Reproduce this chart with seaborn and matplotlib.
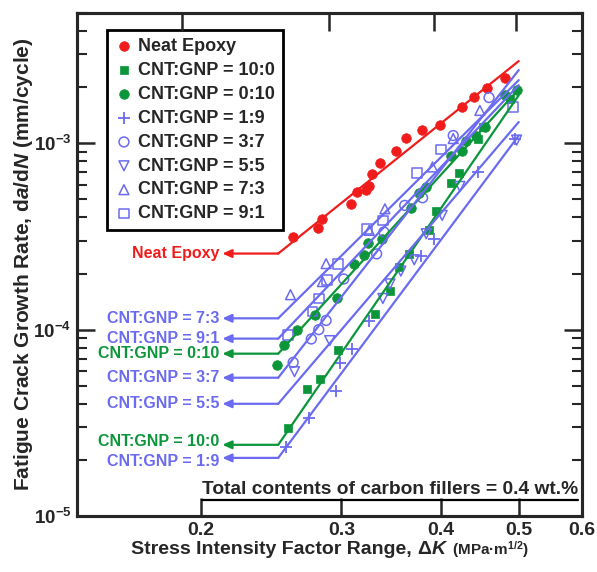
import numpy as np
import seaborn as sns
import matplotlib.pyplot as plt
from matplotlib.ticker import FixedLocator, NullLocator, NullFormatter, LogLocator
from matplotlib.offsetbox import TextArea, HPacker, AnchoredOffsetbox

RED = '#f01c1c'
GREEN = '#0b963a'
BLUE = '#6b6bf2'

# measured points, dK (MPa m^1/2) and da/dN (mm/cycle)
neat_x = [0.261, 0.280, 0.284, 0.308, 0.314, 0.322, 0.325, 0.328, 0.335, 0.351,
          0.361, 0.378, 0.399, 0.425, 0.440, 0.456, 0.481]
neat_y = [3.13e-4, 3.52e-4, 3.94e-4, 4.70e-4, 5.47e-4, 5.59e-4, 5.89e-4, 6.87e-4, 7.84e-4, 9.10e-4,
          1.07e-3, 1.18e-3, 1.25e-3, 1.57e-3, 1.77e-3, 1.97e-3, 2.24e-3]

r10_0_x = [0.257, 0.272, 0.282, 0.297, 0.330, 0.345, 0.354, 0.364, 0.386, 0.394,
           0.411, 0.421, 0.445, 0.451, 0.488]
r10_0_y = [2.98e-5, 4.80e-5, 5.41e-5, 7.80e-5, 1.21e-4, 1.61e-4, 2.16e-4, 2.55e-4, 3.44e-4, 4.31e-4,
           6.12e-4, 6.92e-4, 1.05e-3, 1.23e-3, 1.72e-3]

r0_10_x = [0.249, 0.254, 0.264, 0.278, 0.296, 0.311, 0.320, 0.324, 0.337, 0.367,
           0.375, 0.383, 0.411, 0.425, 0.430, 0.442, 0.454, 0.481, 0.497]
r0_10_y = [6.46e-5, 8.28e-5, 1.00e-4, 1.20e-4, 1.47e-4, 2.25e-4, 2.53e-4, 2.91e-4, 3.07e-4, 4.49e-4,
           5.41e-4, 5.82e-4, 8.51e-4, 9.06e-4, 1.03e-3, 1.10e-3, 1.23e-3, 1.81e-3, 1.93e-3]

r1_9_x = [0.256, 0.273, 0.295, 0.299, 0.309, 0.325, 0.377, 0.392, 0.444, 0.495]
r1_9_y = [2.35e-5, 3.34e-5, 4.70e-5, 6.62e-5, 7.88e-5, 1.11e-4, 2.47e-4, 3.07e-4, 7.01e-4, 1.06e-3]

r3_7_x = [0.261, 0.275, 0.281, 0.287, 0.302, 0.332, 0.339, 0.360, 0.379, 0.414, 0.459]
r3_7_y = [6.67e-5, 8.91e-5, 1.00e-4, 1.12e-4, 1.87e-4, 2.55e-4, 3.34e-4, 4.64e-4, 5.10e-4, 1.10e-3, 1.76e-3]

r5_5_x = [0.262, 0.290, 0.338, 0.345, 0.356, 0.370, 0.383, 0.401, 0.422, 0.497]
r5_5_y = [5.95e-5, 8.73e-5, 1.47e-4, 1.76e-4, 2.06e-4, 2.37e-4, 3.27e-4, 4.10e-4, 5.87e-4, 1.04e-3]

r7_3_x = [0.259, 0.284, 0.287, 0.325, 0.340, 0.390, 0.414, 0.447]
r7_3_y = [1.54e-4, 1.81e-4, 2.26e-4, 3.41e-4, 4.45e-4, 7.46e-4, 1.06e-3, 1.50e-3]

r9_1_x = [0.257, 0.276, 0.281, 0.288, 0.297, 0.323, 0.338, 0.373, 0.400, 0.492]
r9_1_y = [9.37e-5, 1.25e-4, 1.47e-4, 1.85e-4, 2.26e-4, 3.48e-4, 3.85e-4, 6.92e-4, 9.25e-4, 1.56e-3]

# fitted Paris lines: da/dN at dK = 0.25 and 0.5
fit_x = [0.25, 0.5]
fit_neat = [2.56e-4, 2.76e-3]
fit_10_0 = [2.41e-5, 1.81e-3]
fit_0_10 = [7.43e-5, 1.95e-3]
fit_1_9 = [2.05e-5, 1.10e-3]
fit_3_7 = [5.52e-5, 2.47e-3]
fit_5_5 = [4.00e-5, 1.30e-3]
fit_7_3 = [1.15e-4, 2.18e-3]
fit_9_1 = [8.95e-5, 2.05e-3]

series = [
    ('Neat Epoxy', neat_x, neat_y, fit_neat, RED, 'o', True),
    ('CNT:GNP = 10:0', r10_0_x, r10_0_y, fit_10_0, GREEN, 's', True),
    ('CNT:GNP = 0:10', r0_10_x, r0_10_y, fit_0_10, GREEN, 'o', True),
    ('CNT:GNP = 1:9', r1_9_x, r1_9_y, fit_1_9, BLUE, '+', True),
    ('CNT:GNP = 3:7', r3_7_x, r3_7_y, fit_3_7, BLUE, 'o', False),
    ('CNT:GNP = 5:5', r5_5_x, r5_5_y, fit_5_5, BLUE, 'v', False),
    ('CNT:GNP = 7:3', r7_3_x, r7_3_y, fit_7_3, BLUE, '^', False),
    ('CNT:GNP = 9:1', r9_1_x, r9_1_y, fit_9_1, BLUE, 's', False),
]
# small vertical nudges (points) so the two lowest labels don't collide
label_nudge = {'CNT:GNP = 10:0': 2.5, 'CNT:GNP = 1:9': -2.5}

sns.set_theme(style='ticks')
plt.rcParams['font.family'] = ['Liberation Sans', 'DejaVu Sans']
plt.rcParams['font.weight'] = 'bold'
plt.rcParams['mathtext.fontset'] = 'custom'
plt.rcParams['mathtext.rm'] = 'Liberation Sans:bold'
plt.rcParams['mathtext.it'] = 'Liberation Sans:bold:italic'
plt.rcParams['mathtext.bf'] = 'Liberation Sans:bold'

fig, ax = plt.subplots(figsize=(5.97, 5.72), dpi=100)
fig.subplots_adjust(left=77 / 597, right=582 / 597, top=1 - 13 / 572, bottom=1 - 516 / 572)
ax.set_xscale('log')
ax.set_yscale('log')

for label, xs, ys, fit, col, mk, filled in series:
    if mk == '+':
        sns.scatterplot(x=xs, y=ys, ax=ax, marker='+', color=col, s=65, linewidth=1.3, label=label)
    elif filled:
        sns.scatterplot(x=xs, y=ys, ax=ax, marker=mk, color=col, edgecolor=col,
                        s=40 if mk == 's' else 48, linewidth=0.5, label=label)
    else:
        sns.scatterplot(x=xs, y=ys, ax=ax, marker=mk, color=col, facecolors='none', edgecolor=col,
                        s=50, linewidth=1.1, label=label)
    sns.lineplot(x=fit_x, y=fit, ax=ax, color=col, lw=1.6, legend=False)
    ax.annotate('', xy=(0.2128, fit[0]), xytext=(0.25, fit[0]),
                arrowprops=dict(arrowstyle='-|>,head_length=0.45,head_width=0.2',
                                color=col, lw=1.6, shrinkA=0, shrinkB=0))
    ax.annotate(label, xy=(0.2112, fit[0]), xytext=(0, label_nudge.get(label, 0)),
                textcoords='offset points', ha='right', va='center', color=col,
                fontsize=11.5, fontweight='bold')

ax.set_xlim(0.14, 0.6)
ax.set_ylim(1e-5, 5e-3)

ax.xaxis.set_major_locator(FixedLocator([0.2, 0.3, 0.4, 0.5, 0.6]))
ax.xaxis.set_major_formatter(plt.FuncFormatter(lambda v, p: f'{v:.1f}'))
ax.xaxis.set_minor_locator(NullLocator())
ax.yaxis.set_major_locator(LogLocator(base=10, numticks=10))
ax.yaxis.set_minor_locator(LogLocator(base=10, subs=np.arange(2, 10), numticks=20))
ax.yaxis.set_minor_formatter(NullFormatter())
ax.tick_params(axis='x', which='major', labelsize=14)
ax.tick_params(axis='y', which='major', labelsize=13.5)
ax.tick_params(which='major', direction='in', length=13, width=1.8, top=False, right=True, pad=4)
ax.tick_params(which='minor', direction='in', length=7, width=1.5, top=False, right=True)
for sp in ax.spines.values():
    sp.set_linewidth(2.2)
    sp.set_color('black')

# top axis in the original is slightly offset from the bottom one
top = ax.twiny()
top.set_xscale('log')
top.set_xlim(0.15, 0.6)
top.xaxis.set_major_locator(FixedLocator([0.2, 0.3, 0.4, 0.5]))
top.xaxis.set_minor_locator(NullLocator())
top.xaxis.set_major_formatter(NullFormatter())
top.tick_params(which='major', direction='in', length=13, width=1.8)
for sp in top.spines.values():
    sp.set_linewidth(2.2)

ax.set_ylabel(r'Fatigue Crack Growth Rate, d$a$/d$N$ (mm/cycle)', fontsize=15, fontweight='bold')
ax.yaxis.set_label_coords(-0.084, 0.5)

parts = HPacker(children=[
    TextArea('Stress Intensity Factor Range, ', textprops=dict(fontsize=14, fontweight='bold')),
    TextArea(r'$\Delta K$', textprops=dict(fontsize=14, fontweight='bold')),
    TextArea(r' (MPa·m$^{\mathdefault{1/2}}$)', textprops=dict(fontsize=11, fontweight='bold')),
], align='baseline', pad=0, sep=0)
fig.add_artist(AnchoredOffsetbox(loc='center', child=parts, frameon=False, pad=0, borderpad=0,
                                 bbox_to_anchor=(0.553, 0.04), bbox_transform=fig.transFigure))

note = ax.text(0.992, 0.043, 'Total contents of carbon fillers = 0.4 wt.%', transform=ax.transAxes,
               ha='right', va='baseline', fontsize=13.8, fontweight='bold')

leg = ax.legend(loc='upper left', bbox_to_anchor=(0.059, 0.966), borderaxespad=0, fontsize=13,
                frameon=True, fancybox=False, framealpha=1, edgecolor='black',
                handletextpad=0.3, labelspacing=0.38, borderpad=0.45, handlelength=1.0)
leg.get_frame().set_linewidth(2.0)
for t in leg.get_texts():
    t.set_fontweight('bold')

fig.canvas.draw()
bb = note.get_window_extent().transformed(ax.transAxes.inverted())
ax.plot([bb.x0, bb.x1], [bb.y0 - 0.003, bb.y0 - 0.003], transform=ax.transAxes, color='black', lw=1.6)

fig.savefig('out.png', dpi=100)
